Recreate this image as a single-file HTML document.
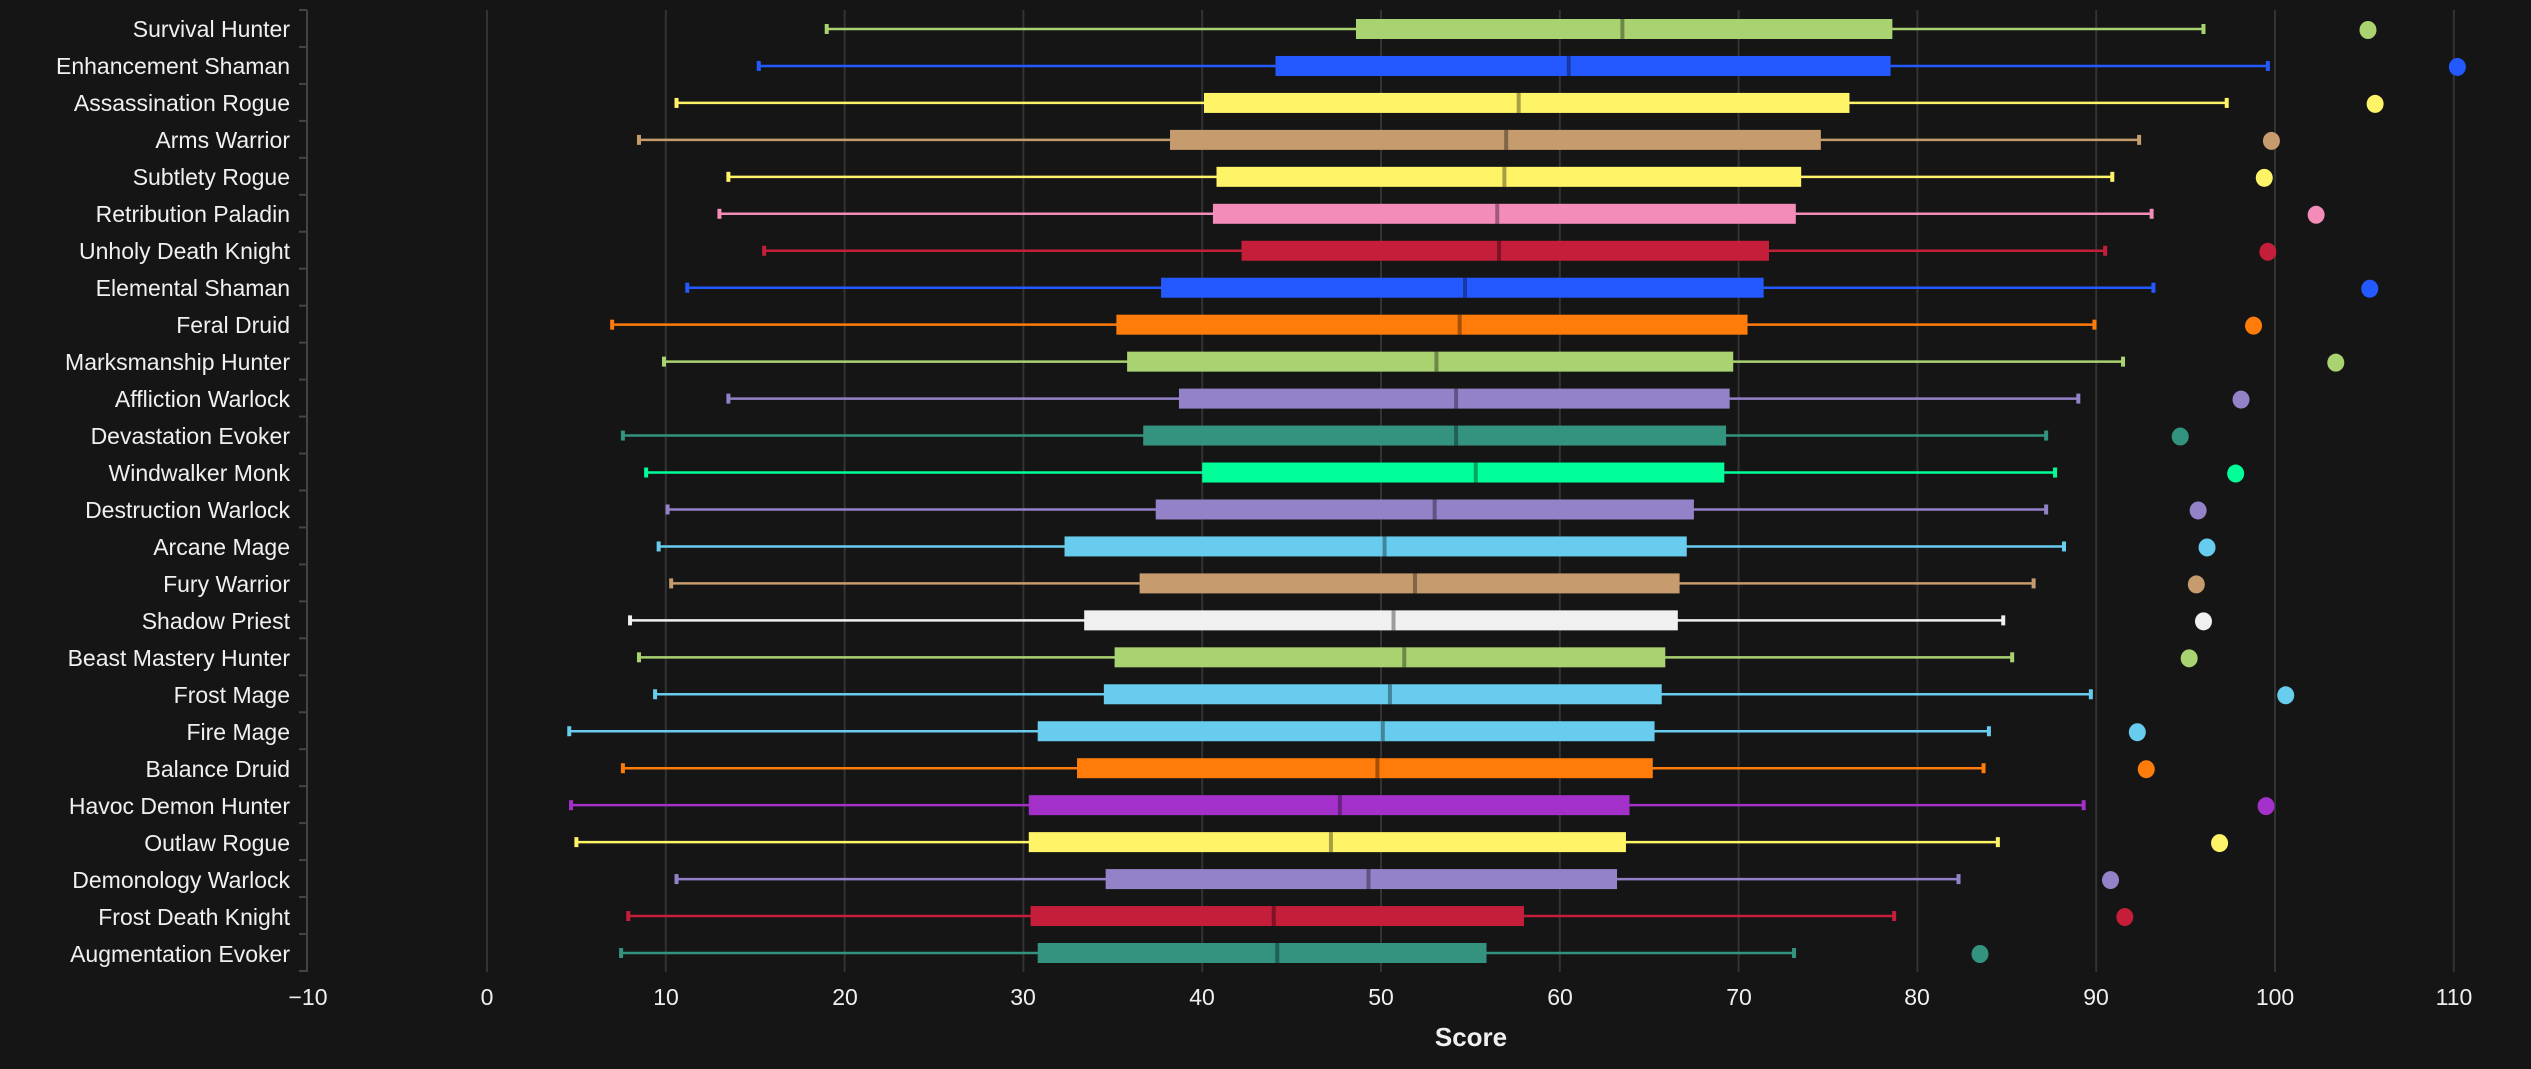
<!DOCTYPE html>
<html><head><meta charset="utf-8"><style>
html,body{margin:0;padding:0;background:#151515;}
svg{display:block}
text{font-family:"Liberation Sans",sans-serif;fill:#f0f0f0}
</style></head><body>
<svg id="s" width="2531" height="1069" viewBox="0 0 2531 1069" xmlns="http://www.w3.org/2000/svg">
<rect width="2531" height="1069" fill="#151515"/>
<g id="grid"></g>
<line x1="307" y1="10" x2="307" y2="972" stroke="#444" stroke-width="2"/>
<g font-size="23" text-anchor="end">
<text x="290" y="37">Survival Hunter</text>
<text x="290" y="74">Enhancement Shaman</text>
<text x="290" y="111">Assassination Rogue</text>
<text x="290" y="148">Arms Warrior</text>
<text x="290" y="185">Subtlety Rogue</text>
<text x="290" y="222">Retribution Paladin</text>
<text x="290" y="259">Unholy Death Knight</text>
<text x="290" y="296">Elemental Shaman</text>
<text x="290" y="333">Feral Druid</text>
<text x="290" y="370">Marksmanship Hunter</text>
<text x="290" y="407">Affliction Warlock</text>
<text x="290" y="444">Devastation Evoker</text>
<text x="290" y="481">Windwalker Monk</text>
<text x="290" y="518">Destruction Warlock</text>
<text x="290" y="555">Arcane Mage</text>
<text x="290" y="592">Fury Warrior</text>
<text x="290" y="629">Shadow Priest</text>
<text x="290" y="666">Beast Mastery Hunter</text>
<text x="290" y="703">Frost Mage</text>
<text x="290" y="740">Fire Mage</text>
<text x="290" y="777">Balance Druid</text>
<text x="290" y="814">Havoc Demon Hunter</text>
<text x="290" y="851">Outlaw Rogue</text>
<text x="290" y="888">Demonology Warlock</text>
<text x="290" y="925">Frost Death Knight</text>
<text x="290" y="962">Augmentation Evoker</text>
</g>
<g font-size="23" text-anchor="middle">
<text x="308" y="1005">−10</text>
<text x="487" y="1005">0</text>
<text x="666" y="1005">10</text>
<text x="845" y="1005">20</text>
<text x="1023" y="1005">30</text>
<text x="1202" y="1005">40</text>
<text x="1381" y="1005">50</text>
<text x="1560" y="1005">60</text>
<text x="1739" y="1005">70</text>
<text x="1917" y="1005">80</text>
<text x="2096" y="1005">90</text>
<text x="2275" y="1005">100</text>
<text x="2454" y="1005">110</text>
</g>
<text x="1471" y="1046" font-size="26" font-weight="bold" text-anchor="middle">Score</text>
<g id="bx"></g>
</svg>
<script>
var X=function(v){return 487+17.88*v;};
var g=document.getElementById('grid'),b=document.getElementById('bx'),ns='http://www.w3.org/2000/svg';
function el(p,t,a){var e=document.createElementNS(ns,t);for(var k in a)e.setAttribute(k,a[k]);p.appendChild(e);return e;}
for(var v=0;v<=110;v+=10)el(g,'line',{x1:X(v),x2:X(v),y1:10,y2:972,stroke:'#333','stroke-width':2});
for(var i=0;i<=26;i++){var yy=10+i*36.96;el(g,'line',{x1:299,x2:307,y1:yy,y2:yy,stroke:'#444','stroke-width':2});}
var G='#a9d271',B='#2459ff',Y='#fff468',T='#c69b6d',P='#f48cba',R='#c41e3a',O='#ff7c0a',W='#9482c9',E='#33937f',M='#00ff98',C='#68ccef',S='#f0f0f0',D='#a330c9';
var d=[
[19.0,48.6,63.5,78.6,96.0,105.2,G],
[15.2,44.1,60.5,78.5,99.6,110.2,B],
[10.6,40.1,57.7,76.2,97.3,105.6,Y],
[8.5,38.2,57.0,74.6,92.4,99.8,T],
[13.5,40.8,56.9,73.5,90.9,99.4,Y],
[13.0,40.6,56.5,73.2,93.1,102.3,P],
[15.5,42.2,56.6,71.7,90.5,99.6,R],
[11.2,37.7,54.7,71.4,93.2,105.3,B],
[7.0,35.2,54.4,70.5,89.9,98.8,O],
[9.9,35.8,53.1,69.7,91.5,103.4,G],
[13.5,38.7,54.2,69.5,89.0,98.1,W],
[7.6,36.7,54.2,69.3,87.2,94.7,E],
[8.9,40.0,55.3,69.2,87.7,97.8,M],
[10.1,37.4,53.0,67.5,87.2,95.7,W],
[9.6,32.3,50.2,67.1,88.2,96.2,C],
[10.3,36.5,51.9,66.7,86.5,95.6,T],
[8.0,33.4,50.7,66.6,84.8,96.0,S],
[8.5,35.1,51.3,65.9,85.3,95.2,G],
[9.4,34.5,50.5,65.7,89.7,100.6,C],
[4.6,30.8,50.1,65.3,84.0,92.3,C],
[7.6,33.0,49.8,65.2,83.7,92.8,O],
[4.7,30.3,47.7,63.9,89.3,99.5,D],
[5.0,30.3,47.2,63.7,84.5,96.9,Y],
[10.6,34.6,49.3,63.2,82.3,90.8,W],
[7.9,30.4,44.0,58.0,78.7,91.6,R],
[7.5,30.8,44.2,55.9,73.1,83.5,E]];
d.forEach(function(r,i){var y=29+36.96*i,c=r[6];
el(b,'line',{x1:X(r[0]),x2:X(r[4]),y1:y,y2:y,stroke:c,'stroke-width':2.5});
el(b,'line',{x1:X(r[0]),x2:X(r[0]),y1:y-5,y2:y+5,stroke:c,'stroke-width':4});
el(b,'line',{x1:X(r[4]),x2:X(r[4]),y1:y-5,y2:y+5,stroke:c,'stroke-width':4});
el(b,'rect',{x:X(r[1]),y:y-10,width:X(r[3])-X(r[1]),height:20,fill:c});
el(b,'line',{x1:X(r[2]),x2:X(r[2]),y1:y-10,y2:y+10,stroke:'rgba(0,0,0,0.35)','stroke-width':4});
el(b,'ellipse',{cx:X(r[5]),cy:y+1,rx:8.5,ry:9,fill:c});
});
</script>
</body></html>
